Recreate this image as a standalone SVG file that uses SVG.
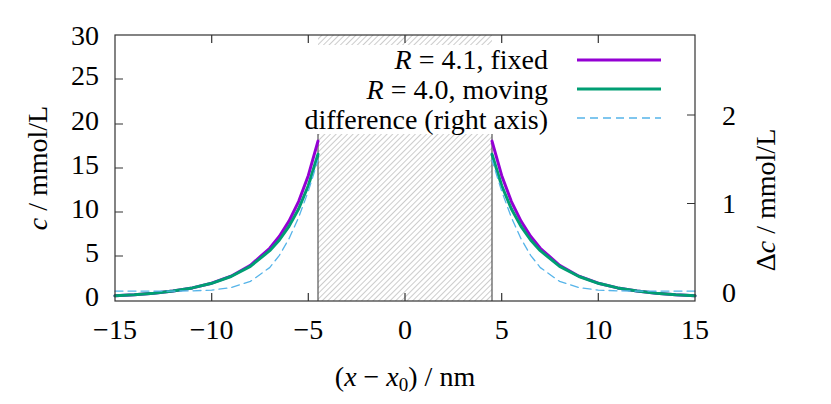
<svg xmlns="http://www.w3.org/2000/svg" width="831" height="404" viewBox="0 0 831 404">
<style>
text{font-family:"Liberation Serif","DejaVu Serif",serif;fill:#000}
.t{font-size:28px}
.ax{stroke:#333;stroke-width:1.2;fill:none}
.c{fill:none;stroke-linejoin:round;stroke-linecap:round}
</style>
<defs>
<pattern id="h" width="4" height="4" patternUnits="userSpaceOnUse" patternTransform="rotate(45)">
<line x1="0" y1="0" x2="0" y2="4" stroke="#999" stroke-width="1"/>
</pattern>
</defs>
<rect width="831" height="404" fill="#fff"/>
<g id="hatch">
<rect x="318" y="35" width="174" height="266" fill="url(#h)"/>
<line x1="318" y1="134" x2="318" y2="301" stroke="#555" stroke-width="1.2"/>
<line x1="492" y1="134" x2="492" y2="301" stroke="#555" stroke-width="1.2"/>
</g>
<g id="legend">
<rect x="225" y="45" width="465" height="89" fill="#fff"/>
<text class="t" x="548" y="69" text-anchor="end"><tspan font-style="italic">R</tspan> = 4.1, fixed</text>
<text class="t" x="548" y="99" text-anchor="end"><tspan font-style="italic">R</tspan> = 4.0, moving</text>
<text class="t" x="548" y="129" text-anchor="end">difference (right axis)</text>
<line x1="577" y1="60" x2="661" y2="60" stroke="#9400d3" stroke-width="3"/>
<line x1="577" y1="89" x2="661" y2="89" stroke="#009e73" stroke-width="3"/>
<line x1="577" y1="118" x2="661" y2="118" stroke="#56b4e9" stroke-width="1.3" stroke-dasharray="8,5"/>
</g>
<g id="connectors">
<polyline class="c" stroke="#9400d3" stroke-width="3" points="115,295.8 134.4,294.8 153.7,293.3 173,291.1 192.4,287.9 211.7,283.2 231,276.2 250.4,265.3 269.7,248.3 279.4,236.3 289,221.1 298.7,201.3 308.35,175.4 318,141.1"/>
<polyline class="c" stroke="#9400d3" stroke-width="3" points="695,295.8 675.6,294.8 656.3,293.3 637,291.1 617.6,287.9 598.3,283.2 579,276.2 559.6,265.3 540.3,248.3 530.6,236.3 521,221.1 511.3,201.3 501.65,175.4 492,141.1"/>
<polyline class="c" stroke="#009e73" stroke-width="3" points="115,295.8 134.4,294.8 153.7,293.3 173,291.1 192.4,287.9 211.7,283.3 231,276.5 250.4,266.3 269.7,250.7 279.4,240 289,226.4 298.7,208.8 308.35,185.5 318,154.3"/>
<polyline class="c" stroke="#009e73" stroke-width="3" points="695,295.8 675.6,294.8 656.3,293.3 637,291.1 617.6,287.9 598.3,283.3 579,276.5 559.6,266.3 540.3,250.7 530.6,240 521,226.4 511.3,208.8 501.65,185.5 492,154.3"/>
<polyline class="c" stroke="#56b4e9" stroke-width="1.3" stroke-dasharray="8,5" points="115,291.1 173,291.1 192.4,290.8 211.7,290.1 231,287.7 250.4,281.4 269.7,267.6 279.4,255.3 289,238.7 298.7,217.3 308.35,191.1 318,160.1"/>
<polyline class="c" stroke="#56b4e9" stroke-width="1.3" stroke-dasharray="8,5" points="695,291.1 637,291.1 617.6,290.8 598.3,290.1 579,287.7 559.6,281.4 540.3,267.6 530.6,255.3 521,238.7 511.3,217.3 501.65,191.1 492,160.1"/>
</g>
<g id="axes">
<rect class="ax" x="115" y="35" width="580" height="266"/>
<path class="ax" d="M115,256h8M115,212h8M115,168h8M115,124h8M115,79h8M211.7,301v-8M308.3,301v-8M405,301v-8M501.7,301v-8M598.3,301v-8M211.7,35v8M308.3,35v8M405,35v8M501.7,35v8M598.3,35v8M695,203.5h-8M695,115h-8"/>
<g class="t" text-anchor="end">
<text x="99" y="306">0</text><text x="99" y="262">5</text><text x="99" y="218">10</text><text x="99" y="174">15</text><text x="99" y="130">20</text><text x="99" y="85">25</text><text x="99" y="45">30</text>
</g>
<g class="t">
<text x="722" y="302">0</text><text x="722" y="213">1</text><text x="722" y="125">2</text>
</g>
<g class="t" text-anchor="middle">
<text x="115" y="339">−15</text><text x="211.7" y="339">−10</text><text x="308.3" y="339">−5</text><text x="405" y="339">0</text><text x="501.7" y="339">5</text><text x="598.3" y="339">10</text><text x="695" y="339">15</text>
<text x="405" y="386">(<tspan font-style="italic">x</tspan> − <tspan font-style="italic">x</tspan><tspan font-size="19" dy="5">0</tspan><tspan dy="-5">)  /  nm</tspan></text>
<text transform="translate(47,168) rotate(-90)"><tspan font-style="italic">c</tspan>  /  mmol/L</text>
<text transform="translate(775,200) rotate(-90)">Δ<tspan font-style="italic">c</tspan>  /  mmol/L</text>
</g>
</g>
</svg>
